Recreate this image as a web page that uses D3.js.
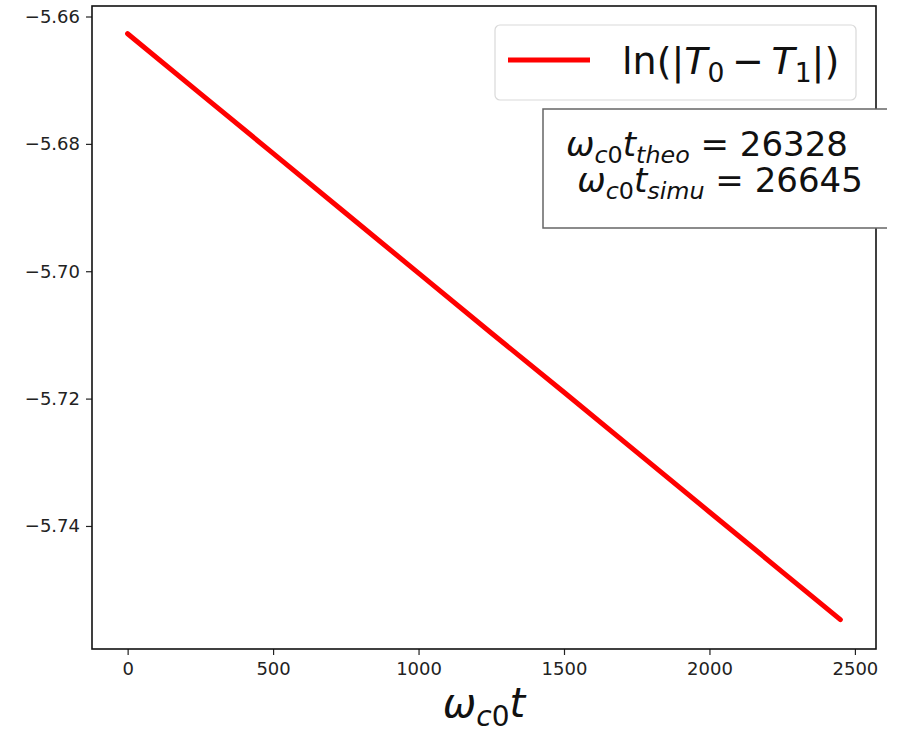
<!DOCTYPE html>
<html>
<head>
<meta charset="utf-8">
<script src="https://cdn.jsdelivr.net/npm/d3@7"></script>
<style>
  body { margin: 0; background: #fff; }
  svg { display: block; font-family: "DejaVu Sans", sans-serif; }
</style>
</head>
<body>
<div id="chart"></div>
<script>
// values (omega_c0 t, ln|T0 - T1|)
const times = [0, 250, 500, 750, 1000, 1250, 1500, 1750, 2000, 2250, 2450];
const logDiff = [-5.6627, -5.6721, -5.6815, -5.6909, -5.7003, -5.7097, -5.7190, -5.7284, -5.7378, -5.7472, -5.7547];
const xTicks = [0, 500, 1000, 1500, 2000, 2500];
const yTicks = [-5.66, -5.68, -5.70, -5.72, -5.74];
const fitLabels = [["theo", "26328"], ["simu", "26645"]];

const width = 897, height = 733;
const frame = { left: 92, right: 876, top: 6, bottom: 649 };

const svg = d3.select("#chart").append("svg")
  .attr("width", width)
  .attr("height", height);

const x = d3.scaleLinear()
  .domain([-122.5, 2572.5])
  .range([frame.left, frame.right]);

const y = d3.scaleLinear()
  .domain([-5.75932, -5.65835])
  .range([frame.bottom, frame.top]);

// axes
const xAxis = d3.axisBottom(x).tickValues(xTicks).tickSize(6).tickPadding(7)
  .tickFormat(d3.format("d"));
const yAxis = d3.axisLeft(y).tickValues(yTicks).tickSize(6).tickPadding(6)
  .tickFormat(d3.format(".2f"));

const gx = svg.append("g")
  .attr("transform", "translate(0," + frame.bottom + ")")
  .call(xAxis);
const gy = svg.append("g")
  .attr("transform", "translate(" + frame.left + ",0)")
  .call(yAxis);

[gx, gy].forEach(function(g) {
  g.select(".domain").remove();
  g.selectAll(".tick line").attr("stroke", "#222").attr("stroke-width", 1.2);
  g.selectAll(".tick text")
    .attr("fill", "#222")
    .style("font-size", "18px")
    .style("font-family", "DejaVu Sans");
});

// the line
const line = d3.line()
  .x(function(d, i) { return x(times[i]); })
  .y(function(d) { return y(d); });

svg.append("path")
  .datum(logDiff)
  .attr("fill", "none")
  .attr("stroke", "#ff0000")
  .attr("stroke-width", 5)
  .attr("stroke-linecap", "round")
  .attr("d", line);

// frame
svg.append("rect")
  .attr("x", frame.left)
  .attr("y", frame.top)
  .attr("width", frame.right - frame.left)
  .attr("height", frame.bottom - frame.top)
  .attr("fill", "none")
  .attr("stroke", "#111")
  .attr("stroke-width", 1.6);

// helper for math-like text: segments of [text, italic, level]
function mathText(parent, xPos, yPos, size, anchor, segs) {
  const t = parent.append("text")
    .attr("x", xPos)
    .attr("y", yPos)
    .attr("text-anchor", anchor)
    .style("font-size", size + "px")
    .attr("fill", "#111");
  let level = 0;
  segs.forEach(function(s) {
    const lv = s[2] || 0;
    const dy = (lv - level) * size * 0.22;
    level = lv;
    t.append("tspan")
      .attr("dy", dy)
      .style("font-style", s[1] ? "italic" : "normal")
      .style("font-size", (lv ? size * 0.7 : size) + "px")
      .text(s[0]);
  });
  return t;
}

// legend
svg.append("rect")
  .attr("x", 495).attr("y", 25)
  .attr("width", 361).attr("height", 75)
  .attr("rx", 5)
  .attr("fill", "#fff")
  .attr("stroke", "#d9d9d9")
  .attr("stroke-width", 1.2);

svg.append("line")
  .attr("x1", 508).attr("x2", 590)
  .attr("y1", 60).attr("y2", 60)
  .attr("stroke", "#ff0000")
  .attr("stroke-width", 5);

mathText(svg, 622, 74, 38, "start", [
  ["ln(|", false], ["T", true], ["0", false, 1], ["\u2009\u2212\u2009", false, 0],
  ["T", true], ["1", false, 1], ["|)", false, 0]
]);

// fit text box
svg.append("path")
  .attr("d", "M887,109H543V228H887")
  .attr("fill", "#fff")
  .attr("stroke", "#666")
  .attr("stroke-width", 1.5);

const centers = [707, 720];
fitLabels.forEach(function(f, i) {
  mathText(svg, centers[i], 156 + i * 36, 34, "middle", [
    ["\u03c9", true], ["c", true, 1], ["0", false, 1], ["t", true, 0],
    [f[0], true, 1], [" = " + f[1], false, 0]
  ]);
});

// x label
mathText(svg, 484, 717, 40, "middle", [
  ["\u03c9", true], ["c", true, 1], ["0", false, 1], ["t", true, 0]
]);
</script>
</body>
</html>
